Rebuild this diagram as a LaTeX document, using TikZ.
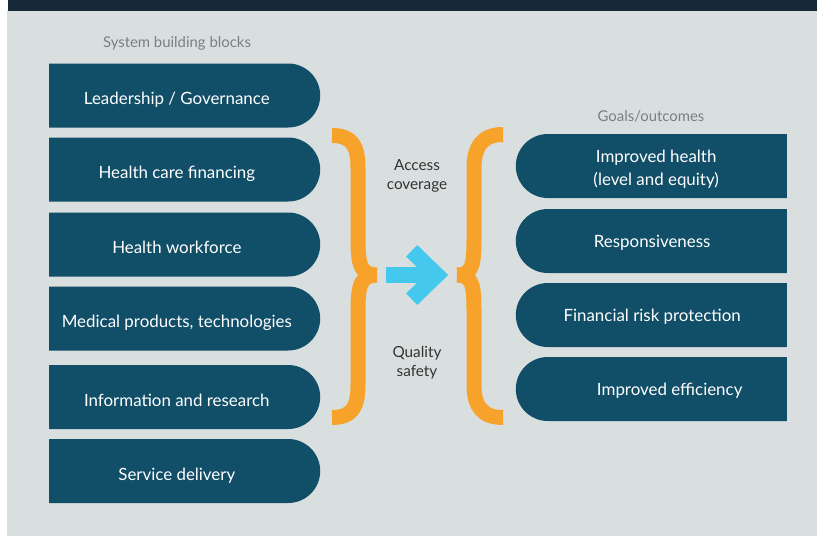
\documentclass[tikz,border=0pt]{standalone}
\usepackage{fontspec}
\setmainfont{Lato}
\usetikzlibrary{shapes.misc}

\begin{document}
\begin{tikzpicture}[x=1pt, y=-1pt,
   font=\fontsize{16.9}{20.5}\selectfont,
   block/.style={rounded rectangle, rounded rectangle west arc=none, anchor=west,
     fill=petrol, text=white, minimum width=271pt, minimum height=64pt, inner sep=0pt,
     text height=22pt, text depth=4pt, execute at end node=\hspace*{13pt}},
   goal/.style={rounded rectangle, rounded rectangle east arc=none, anchor=east,
     fill=petrol, text=white, minimum width=271pt, minimum height=64pt, inner sep=0pt,
     text height=17pt, text depth=4pt, align=center},
   heading/.style={text=slate, font=\fontsize{14.9}{17}\selectfont},
   brace/.style={draw=marigold, line width=15pt},
   link/.style={text=charcoal, align=center, font=\fontsize{15.3}{19}\selectfont}]
   \definecolor{petrol}{RGB}{17,78,104}
   \definecolor{marigold}{RGB}{247,162,43}
   \definecolor{skyblue}{RGB}{69,200,238}
   \definecolor{mist}{RGB}{217,223,223}
   \definecolor{inkbar}{RGB}{23,40,57}
   \definecolor{slate}{RGB}{122,127,128}
   \definecolor{charcoal}{RGB}{51,51,51}
   \useasboundingbox (0,0) rectangle (817,536);
   \fill[mist] (7,10) rectangle (817,536);
   \fill[inkbar] (8,0) rectangle (817,10.5);

   \node [heading] (blockstitle) at (177,43) {System building blocks};
   \node [block] (leadership) at (49,95.5) {Leadership / Governance};
   \node [block] (financing) at (49,169.5) {Health care financing};
   \node [block] (workforce) at (49,244.5) {Health workforce};
   \node [block] (products) at (49,318.5) {Medical products, technologies};
   \node [block] (information) at (49,397) {Information and research};
   \node [block] (delivery) at (49,471) {Service delivery};

   \node [heading] (goalstitle) at (651,116) {Goals/outcomes};
   \node [goal, font=\fontsize{16.9}{23}\selectfont, text height=42pt] (health) at (787,166)
      {Improved health\\(level and equity)};
   \node [goal] (responsiveness) at (787,241) {Responsiveness};
   \node [goal] (protection) at (787,315) {Financial risk protection};
   \node [goal, execute at begin node=\hspace*{35pt}] (efficiency) at (787,389) {Improved efficiency};

   \node [link] (access) at (417,175.5) {Access\\coverage};
   \node [link] (quality) at (417,363) {Quality\\safety};

   % braces
   \draw[brace] (332,135.5) .. controls (352,135.5) and (358,146) .. (358,168) -- (358,240)
      .. controls (358,265) and (361,275) .. (377,275);
   \draw[brace] (332,417.5) .. controls (352,417.5) and (358,407) .. (358,385) -- (358,310)
      .. controls (358,285) and (361,275) .. (377,275);
   \draw[brace] (503,134.5) .. controls (483,134.5) and (474,146) .. (474,168) -- (474,240)
      .. controls (474,265) and (472,275) .. (457,275);
   \draw[brace] (503,417.5) .. controls (483,417.5) and (474,407) .. (474,385) -- (474,310)
      .. controls (474,285) and (472,275) .. (457,275);

   % arrow
   \coordinate (tail) at (386,275);
   \coordinate (tip) at (436.7,275);
   \draw[skyblue, line width=16pt] (tail) -- (tip);
   \draw[skyblue, line width=16pt, miter limit=10] (411.7,250.8) -- (tip) -- (411.7,299.2);
\end{tikzpicture}
\end{document}
